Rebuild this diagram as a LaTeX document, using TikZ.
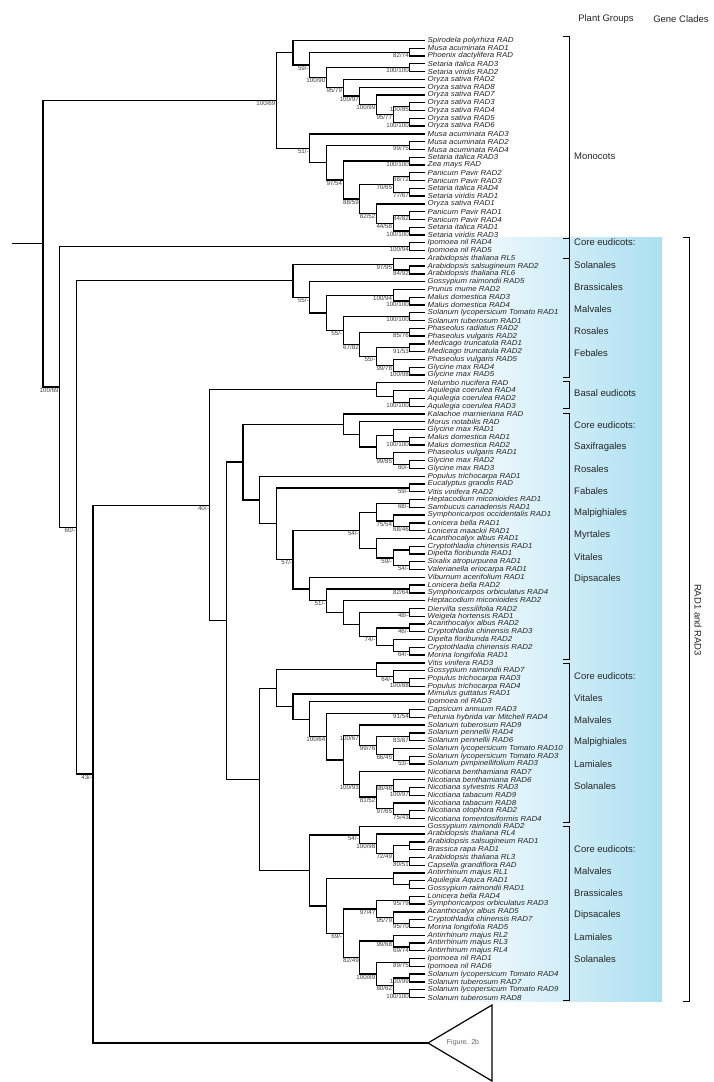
\documentclass[tikz,border=0pt]{standalone}
\usepackage{fontspec}
\setmainfont{Liberation Sans}
\newfontfamily\leaffont[FakeStretch=1.08]{Liberation Sans}
\usetikzlibrary{calc}
\definecolor{radblue}{RGB}{172,223,241}
\newcommand\myleaf[2]{\coordinate (l#1) at (425,{40.5+(#1-1)*7.78}); \node[leaf] (t#1) at (l#1) {#2};}
\newcommand\mynode[5]{%
  \path let \p1=(#3), \p2=(#4) in ({(426.5-16.67*#2)*1pt},{0.5*(\y1+\y2)}) coordinate (#1);
  \draw[br] (#3) -| (#1) |- (#4);
  \node[sup] (s#1) at (#1) {#5};}
\newcommand\mynodeN[4]{%
  \path let \p1=(#3), \p2=(#4) in ({(426.5-16.67*#2)*1pt},{0.5*(\y1+\y2)}) coordinate (#1);
  \draw[br] (#3) -| (#1) |- (#4);}
\begin{document}
\begin{tikzpicture}[x=1pt,y=-1pt,
  br/.style={line width=1.3pt},
  leaf/.style={anchor=west,inner sep=0pt,xshift=2.5pt,font=\leaffont\fontsize{7.3}{7.3}\selectfont\itshape,text=black!85},
  sup/.style={anchor=north east,inner sep=0.5pt,xshift=-0.4pt,font=\fontsize{6.2}{6.2}\selectfont,text=black!75},
  grp/.style={anchor=west,inner sep=0pt,font=\fontsize{9.5}{10}\selectfont,text=black!85},
  hdr/.style={inner sep=0pt,font=\fontsize{9.5}{10}\selectfont,text=black!85},
  brk/.style={line width=0.8pt}]
\useasboundingbox (0,0) rectangle (714,1082);
\fill[white] (0,0) rectangle (714,1082);
\shade[left color=white,right color=radblue] (435,237) rectangle (662,1001);
% leaves
\myleaf{1}{Spirodela polyrhiza RAD}
\myleaf{2}{Musa acuminata RAD1}
\myleaf{3}{Phoenix dactylifera RAD}
\myleaf{4}{Setaria italica RAD3}
\myleaf{5}{Setaria viridis RAD2}
\myleaf{6}{Oryza sativa RAD2}
\myleaf{7}{Oryza sativa RAD8}
\myleaf{8}{Oryza sativa RAD7}
\myleaf{9}{Oryza sativa RAD3}
\myleaf{10}{Oryza sativa RAD4}
\myleaf{11}{Oryza sativa RAD5}
\myleaf{12}{Oryza sativa RAD6}
\myleaf{13}{Musa acuminata RAD3}
\myleaf{14}{Musa acuminata RAD2}
\myleaf{15}{Musa acuminata RAD4}
\myleaf{16}{Setaria italica RAD3}
\myleaf{17}{Zea mays RAD}
\myleaf{18}{Panicum Pavir RAD2}
\myleaf{19}{Panicum Pavir RAD3}
\myleaf{20}{Setaria italica RAD4}
\myleaf{21}{Setaria viridis RAD1}
\myleaf{22}{Oryza sativa RAD1}
\myleaf{23}{Panicum Pavir RAD1}
\myleaf{24}{Panicum Pavir RAD4}
\myleaf{25}{Setaria italica RAD1}
\myleaf{26}{Setaria viridis RAD3}
\myleaf{27}{Ipomoea nil RAD4}
\myleaf{28}{Ipomoea nil RAD5}
\myleaf{29}{Arabidopsis thaliana RL5}
\myleaf{30}{Arabidopsis salsugineum RAD2}
\myleaf{31}{Arabidopsis thaliana RL6}
\myleaf{32}{Gossypium raimondii RAD5}
\myleaf{33}{Prunus mume RAD2}
\myleaf{34}{Malus domestica RAD3}
\myleaf{35}{Malus domestica RAD4}
\myleaf{36}{Solanum lycopersicum Tomato RAD1}
\myleaf{37}{Solanum tuberosum RAD1}
\myleaf{38}{Phaseolus radiatus RAD2}
\myleaf{39}{Phaseolus vulgaris RAD2}
\myleaf{40}{Medicago truncatula RAD1}
\myleaf{41}{Medicago truncatula RAD2}
\myleaf{42}{Phaseolus vulgaris RAD5}
\myleaf{43}{Glycine max RAD4}
\myleaf{44}{Glycine max RAD5}
\myleaf{45}{Nelumbo nucifera RAD}
\myleaf{46}{Aquilegia coerulea RAD4}
\myleaf{47}{Aquilegia coerulea RAD2}
\myleaf{48}{Aquilegia coerulea RAD3}
\myleaf{49}{Kalachoe marnieriana RAD}
\myleaf{50}{Morus notabilis RAD}
\myleaf{51}{Glycine max RAD1}
\myleaf{52}{Malus domestica RAD1}
\myleaf{53}{Malus domestica RAD2}
\myleaf{54}{Phaseolus vulgaris RAD1}
\myleaf{55}{Glycine max RAD2}
\myleaf{56}{Glycine max RAD3}
\myleaf{57}{Populus trichocarpa RAD1}
\myleaf{58}{Eucalyptus grandis RAD}
\myleaf{59}{Vitis vinifera RAD2}
\myleaf{60}{Heptacodium miconioides RAD1}
\myleaf{61}{Sambucus canadensis RAD1}
\myleaf{62}{Symphoricarpos occidentalis RAD1}
\myleaf{63}{Lonicera bella RAD1}
\myleaf{64}{Lonicera maackii RAD1}
\myleaf{65}{Acanthocalyx albus RAD1}
\myleaf{66}{Cryptothladia chinensis RAD1}
\myleaf{67}{Dipelta floribunda RAD1}
\myleaf{68}{Sixalix atropurpurea RAD1}
\myleaf{69}{Valerianella eriocarpa RAD1}
\myleaf{70}{Viburnum acerifolium RAD1}
\myleaf{71}{Lonicera bella RAD2}
\myleaf{72}{Symphoricarpos orbiculatus RAD4}
\myleaf{73}{Heptacodium miconioides RAD2}
\myleaf{74}{Diervilla sessilifolia RAD2}
\myleaf{75}{Weigela hortensis RAD1}
\myleaf{76}{Acanthocalyx albus RAD2}
\myleaf{77}{Cryptothladia chinensis RAD3}
\myleaf{78}{Dipelta floribunda RAD2}
\myleaf{79}{Cryptothladia chinensis RAD2}
\myleaf{80}{Morina longifolia RAD1}
\myleaf{81}{Vitis vinifera RAD3}
\myleaf{82}{Gossypium raimondii RAD7}
\myleaf{83}{Populus trichocarpa RAD3}
\myleaf{84}{Populus trichocarpa RAD4}
\myleaf{85}{Mimulus guttatus RAD1}
\myleaf{86}{Ipomoea nil RAD3}
\myleaf{87}{Capsicum annuum RAD3}
\myleaf{88}{Petunia hybrida var Mitchell RAD4}
\myleaf{89}{Solanum tuberosum RAD9}
\myleaf{90}{Solanum pennellii RAD4}
\myleaf{91}{Solanum pennellii RAD6}
\myleaf{92}{Solanum lycopersicum Tomato RAD10}
\myleaf{93}{Solanum lycopersicum Tomato RAD3}
\myleaf{94}{Solanum pimpinellifolium RAD3}
\myleaf{95}{Nicotiana benthamiana RAD7}
\myleaf{96}{Nicotiana benthamiana RAD6}
\myleaf{97}{Nicotiana sylvestris RAD3}
\myleaf{98}{Nicotiana tabacum RAD9}
\myleaf{99}{Nicotiana tabacum RAD8}
\myleaf{100}{Nicotiana otophora RAD2}
\myleaf{101}{Nicotiana tomentosiformis RAD4}
\myleaf{102}{Gossypium raimondii RAD2}
\myleaf{103}{Arabidopsis thaliana RL4}
\myleaf{104}{Arabidopsis salsugineum RAD1}
\myleaf{105}{Brassica rapa RAD1}
\myleaf{106}{Arabidopsis thaliana RL3}
\myleaf{107}{Capsella grandiflora RAD}
\myleaf{108}{Antirrhinum majus RL1}
\myleaf{109}{Aquilegia Aquca RAD1}
\myleaf{110}{Gossypium raimondii RAD1}
\myleaf{111}{Lonicera bella RAD4}
\myleaf{112}{Symphoricarpos orbiculatus RAD3}
\myleaf{113}{Acanthocalyx albus RAD5}
\myleaf{114}{Cryptothladia chinensis RAD7}
\myleaf{115}{Morina longifolia RAD5}
\myleaf{116}{Antirrhinum majus RL2}
\myleaf{117}{Antirrhinum majus RL3}
\myleaf{118}{Antirrhinum majus RL4}
\myleaf{119}{Ipomoea nil RAD1}
\myleaf{120}{Ipomoea nil RAD6}
\myleaf{121}{Solanum lycopersicum Tomato RAD4}
\myleaf{122}{Solanum tuberosum RAD7}
\myleaf{123}{Solanum lycopersicum Tomato RAD9}
\myleaf{124}{Solanum tuberosum RAD8}
% monocots
\mynode{m1}{1}{l2}{l3}{82/74}
\mynode{m2}{1}{l4}{l5}{100/100}
\mynode{m3}{1}{l9}{l10}{100/85}
\mynode{m4}{1}{l11}{l12}{100/100}
\mynode{m5}{2}{m3}{m4}{95/77}
\mynode{m6}{3}{l8}{m5}{100/99}
\mynode{m7}{4}{l7}{m6}{100/97}
\mynode{m8}{5}{l6}{m7}{95/79}
\mynode{m9}{6}{m2}{m8}{100/90}
\mynode{m10}{7}{m1}{m9}{59/-}
\mynodeN{m11}{8}{l1}{m10}
\mynode{m12}{1}{l14}{l15}{99/75}
\mynode{m13}{1}{l16}{l17}{100/100}
\mynode{m14}{1}{l18}{l19}{68/72}
\mynode{m15}{1}{l20}{l21}{77/67}
\mynode{m16}{2}{m14}{m15}{70/65}
\mynode{m17}{1}{l23}{l24}{84/82}
\mynode{m18}{1}{l25}{l26}{100/100}
\mynode{m19}{2}{m17}{m18}{44/58}
\mynode{m20}{3}{l22}{m19}{82/52}
\mynode{m21}{4}{m16}{m20}{88/59}
\mynode{m22}{5}{m13}{m21}{97/54}
\mynodeN{m23}{6}{m12}{m22}
\mynode{m24}{7}{l13}{m23}{51/-}
\mynode{m25}{9}{m11}{m24}{100/69}
% clade B
\mynode{b1}{1}{l27}{l28}{100/94}
\mynode{b2}{1}{l30}{l31}{84/92}
\mynode{b3}{2}{l29}{b2}{97/95}
\mynode{b4}{1}{l34}{l35}{100/100}
\mynode{b5}{2}{l33}{b4}{100/94}
\mynode{b6}{1}{l36}{l37}{100/100}
\mynode{b7}{1}{l38}{l39}{85/76}
\mynode{b8}{1}{l40}{l41}{91/53}
\mynode{b9}{1}{l43}{l44}{100/98}
\mynode{b10}{2}{l42}{b9}{99/78}
\mynode{b11}{3}{b8}{b10}{55/-}
\mynode{b12}{4}{b7}{b11}{67/82}
\mynode{b13}{5}{b6}{b12}{55/-}
\mynodeN{b14}{6}{b5}{b13}
\mynode{b15}{7}{l32}{b14}{55/-}
\mynodeN{b16}{8}{b3}{b15}
% basal
\mynode{e1}{1}{l47}{l48}{100/100}
\mynodeN{e2}{2}{l46}{e1}
\mynodeN{e3}{3}{l45}{e2}
% group 1
\mynode{k1}{1}{l52}{l53}{100/100}
\mynodeN{k2}{2}{l51}{k1}
\mynode{k3}{1}{l55}{l56}{60/-}
\mynode{k4}{2}{l54}{k3}{99/85}
\mynodeN{k5}{3}{k2}{k4}
\mynodeN{k6}{4}{l50}{k5}
\mynodeN{k7}{5}{l49}{k6}
\mynode{d1}{1}{l58}{l59}{59/-}
\mynode{d2}{1}{l60}{l61}{68/-}
\mynode{d3}{1}{l63}{l64}{68/46}
\mynode{d4}{2}{l62}{d3}{75/54}
\mynodeN{d5}{3}{d2}{d4}
\mynodeN{d6}{1}{l66}{l67}
\mynode{d7}{1}{l68}{l69}{54/-}
\mynode{d8}{2}{d6}{d7}{59/-}
\mynodeN{d9}{3}{l65}{d8}
\mynode{d10}{4}{d5}{d9}{54/-}
\mynode{d11}{1}{l71}{l72}{82/64}
\mynode{d12}{1}{l74}{l75}{48/-}
\mynode{d13}{1}{l76}{l77}{46/-}
\mynode{d14}{1}{l79}{l80}{64/-}
\mynodeN{d15}{2}{l78}{d14}
\mynode{d16}{3}{d13}{d15}{74/-}
\mynodeN{d17}{4}{d12}{d16}
\mynodeN{d18}{5}{l73}{d17}
\mynode{d19}{6}{d11}{d18}{51/-}
\mynodeN{d20}{7}{l70}{d19}
\mynode{d21}{8}{d10}{d20}{57/-}
\mynodeN{d22}{9}{d1}{d21}
\mynodeN{d23}{10}{l57}{d22}
\mynodeN{g1}{11}{k7}{d23}
% group 2
\mynode{v1}{1}{l83}{l84}{100/88}
\mynode{v2}{2}{l82}{v1}{64/-}
\mynodeN{v3}{3}{l81}{v2}
\mynode{s1}{1}{l87}{l88}{91/54}
\mynode{s2}{1}{l90}{l91}{83/87}
\mynode{s3}{1}{l93}{l94}{53/-}
\mynode{s4}{2}{l92}{s3}{66/45}
\mynode{s5}{3}{s2}{s4}{99/76}
\mynode{s6}{4}{l89}{s5}{100/67}
\mynode{n1}{1}{l97}{l98}{100/97}
\mynode{n2}{2}{l96}{n1}{98/48}
\mynode{n3}{1}{l100}{l101}{75/43}
\mynode{n4}{2}{l99}{n3}{97/65}
\mynode{n5}{3}{n2}{n4}{81/52}
\mynode{n6}{4}{l95}{n5}{100/93}
\mynodeN{s7}{5}{s6}{n6}
\mynode{s8}{6}{s1}{s7}{100/64}
\mynodeN{s9}{7}{l86}{s8}
\mynodeN{s10}{8}{l85}{s9}
\mynodeN{g2}{9}{v3}{s10}
% group 3
\mynodeN{r1}{1}{l104}{l105}
\mynode{r2}{1}{l106}{l107}{80/51}
\mynode{r3}{2}{r1}{r2}{72/49}
\mynode{r4}{3}{l103}{r3}{100/98}
\mynode{r5}{4}{l102}{r4}{54/-}
\mynodeN{a1}{1}{l109}{l110}
\mynodeN{a2}{2}{l108}{a1}
\mynode{p1}{1}{l111}{l112}{95/79}
\mynode{p2}{1}{l114}{l115}{95/70}
\mynode{p3}{2}{l113}{p2}{95/79}
\mynode{p4}{3}{p1}{p3}{97/47}
\mynode{q1}{1}{l117}{l118}{69/74}
\mynode{q2}{2}{l116}{q1}{99/68}
\mynode{q3}{1}{l119}{l120}{89/75}
\mynode{q4}{1}{l121}{l122}{100/99}
\mynode{q5}{1}{l123}{l124}{100/100}
\mynode{q6}{2}{q4}{q5}{80/62}
\mynode{q7}{3}{q3}{q6}{100/89}
\mynode{q8}{4}{q2}{q7}{82/49}
\mynode{q9}{5}{p4}{q8}{69/-}
\mynodeN{q10}{6}{a2}{q9}
\mynodeN{g3}{7}{r5}{q10}
\mynodeN{g4}{10}{g2}{g3}
\mynodeN{g5}{12}{g1}{g4}
\mynode{e4}{13}{e3}{g5}{40/-}
% backbone
\coordinate (tri) at (428,1043);
\mynode{E3}{20}{e4}{tri}{43/-}
\mynode{E2}{21}{b16}{E3}{60/-}
\mynode{E1}{22}{b1}{E2}{100/69}
\mynodeN{R}{23}{m25}{E1}
\path let \p1=(R) in (12pt,\y1) coordinate (R0);
\draw[br] (R0) -- (R);
% collapsed subtree
\draw[line width=1.2pt,line join=miter] (tri) -- (492,1005) -- (492,1081) -- cycle;
\node[inner sep=0pt,font=\fontsize{7}{7}\selectfont,text=black!60] (fig) at (463,1043) {Figure. 2b};
% headers
\node[hdr] (h1) at (606,19) {Plant Groups};
\node[hdr] (h2) at (681,19) {Gene Clades};
% brackets
\draw[brk] (563,36) -- (569,36) -- (569,258) -- (563,258);
\draw[brk] (563,238) -- (569,238) -- (569,377) -- (563,377);
\draw[brk] (563,381) -- (569,381) -- (569,408) -- (563,408);
\draw[brk] (563,413) -- (569,413) -- (569,659) -- (563,659);
\draw[brk] (563,663) -- (569,663) -- (569,822) -- (563,822);
\draw[brk] (563,826) -- (569,826) -- (569,1000) -- (563,1000);
\draw[brk] (683,237) -- (689,237) -- (689,1001) -- (683,1001);
\node[hdr,rotate=-90] (rad) at (698,620) {RAD1 and RAD3};
% group labels
\node[grp] (gMono) at (574,156) {Monocots};
\node[grp] (gB1) at (574,242) {Core eudicots:};
\node[grp] (gB2) at (574,265) {Solanales};
\node[grp] (gB3) at (574,287) {Brassicales};
\node[grp] (gB4) at (574,309) {Malvales};
\node[grp] (gB5) at (574,331) {Rosales};
\node[grp] (gB6) at (574,353) {Febales};
\node[grp] (gBas) at (574,393) {Basal eudicots};
\node[grp] (gC1) at (574,425) {Core eudicots:};
\node[grp] (gC2) at (574,447) {Saxifragales};
\node[grp] (gC3) at (574,469) {Rosales};
\node[grp] (gC4) at (574,491) {Fabales};
\node[grp] (gC5) at (574,513) {Malpighiales};
\node[grp] (gC6) at (574,535) {Myrtales};
\node[grp] (gC7) at (574,557) {Vitales};
\node[grp] (gC8) at (574,579) {Dipsacales};
\node[grp] (gD1) at (574,676) {Core eudicots:};
\node[grp] (gD2) at (574,698) {Vitales};
\node[grp] (gD3) at (574,720) {Malvales};
\node[grp] (gD4) at (574,742) {Malpighiales};
\node[grp] (gD5) at (574,764) {Lamiales};
\node[grp] (gD6) at (574,786) {Solanales};
\node[grp] (gF1) at (574,849) {Core eudicots:};
\node[grp] (gF2) at (574,871) {Malvales};
\node[grp] (gF3) at (574,893) {Brassicales};
\node[grp] (gF4) at (574,915) {Dipsacales};
\node[grp] (gF5) at (574,937) {Lamiales};
\node[grp] (gF6) at (574,959) {Solanales};
\end{tikzpicture}
\end{document}
